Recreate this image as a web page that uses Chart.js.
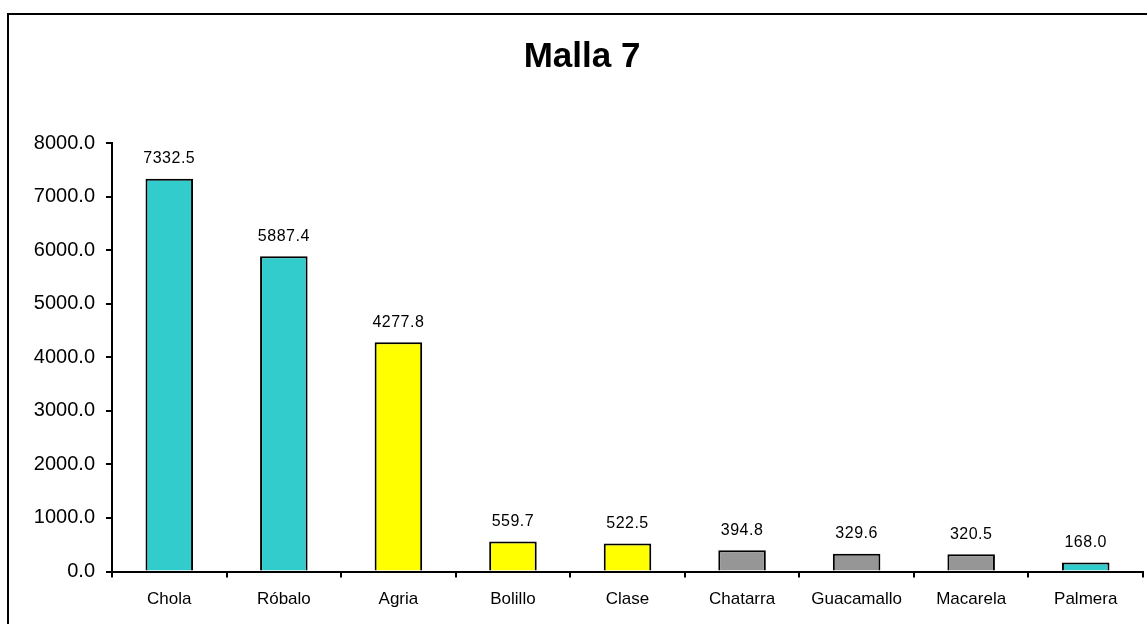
<!DOCTYPE html>
<html>
<head>
<meta charset="utf-8">
<script src="https://cdn.jsdelivr.net/npm/chart.js@4/dist/chart.umd.min.js"></script>
<style>
  html, body { margin: 0; padding: 0; background: #fff; overflow: hidden; }
  #wrap { position: relative; width: 1147px; height: 624px; }
  #frame { position: absolute; left: 7px; top: 13px; width: 1200px; height: 700px; border: 2px solid #000; box-sizing: border-box; }
  #c { position: absolute; left: 0; top: 0; }
</style>
</head>
<body>
<div id="wrap">
  <div id="frame"></div>
  <canvas id="c" width="1147" height="624"></canvas>
</div>
<script>
const categories = ["Chola", "Róbalo", "Agria", "Bolillo", "Clase", "Chatarra", "Guacamallo", "Macarela", "Palmera"];
const values = [7332.5, 5887.4, 4277.8, 559.7, 522.5, 394.8, 329.6, 320.5, 168.0];
const barColors = ["#33CCCC", "#33CCCC", "#FFFF00", "#FFFF00", "#FFFF00", "#969696", "#969696", "#969696", "#33CCCC"];
const yTicks = [0, 1000, 2000, 3000, 4000, 5000, 6000, 7000, 8000];
const titleText = "Malla 7";

const FONT = "'Liberation Sans', Arial, sans-serif";

const valueLabels = {
  id: 'valueLabels',
  afterDatasetsDraw(chart) {
    const ctx = chart.ctx;
    const meta = chart.getDatasetMeta(0);
    ctx.save();
    ctx.font = "16px " + FONT;
    ctx.fillStyle = "#000";
    ctx.textAlign = "center";
    ctx.textBaseline = "alphabetic";
    try { ctx.letterSpacing = "0.5px"; } catch (e) {}
    meta.data.forEach((bar, i) => {
      ctx.fillText(values[i].toFixed(1), bar.x, bar.y - 15.5);
    });
    ctx.restore();
  }
};

new Chart(document.getElementById('c'), {
  type: 'bar',
  data: {
    labels: categories,
    datasets: [{
      data: values,
      backgroundColor: barColors,
      borderColor: "#000",
      borderWidth: 2,
      barPercentage: 0.415,
      categoryPercentage: 1.0
    }]
  },
  options: {
    responsive: false,
    animation: false,
    devicePixelRatio: 1,
    layout: { padding: { left: 21, right: 4, top: 0, bottom: 0 } },
    plugins: {
      legend: { display: false },
      tooltip: { enabled: false },
      title: {
        display: true,
        text: titleText,
        color: "#000",
        font: { family: FONT, size: 35, weight: 'bold', lineHeight: 1.2 },
        padding: { top: 36, bottom: 65 }
      }
    },
    scales: {
      x: {
        afterFit(s) { s.height = 52.5; },
        grid: { display: true, drawOnChartArea: false, drawTicks: true, tickLength: 6, color: "#000", lineWidth: 2, offset: true },
        border: { display: true, color: "#000", width: 2 },
        ticks: { color: "#000", font: { family: FONT, size: 17 }, padding: 12, maxRotation: 0, autoSkip: false }
      },
      y: {
        min: 0,
        max: 8000,
        afterFit(s) { s.width = 91; },
        afterBuildTicks(s) { s.ticks = yTicks.map(v => ({ value: v })); },
        grid: { display: true, drawOnChartArea: false, drawTicks: true, tickLength: 6, color: "#000", lineWidth: 2 },
        border: { display: true, color: "#000", width: 2 },
        ticks: { color: "#000", font: { family: FONT, size: 20 }, padding: 11, callback: v => Number(v).toFixed(1) }
      }
    }
  },
  plugins: [valueLabels]
});
</script>
</body>
</html>
